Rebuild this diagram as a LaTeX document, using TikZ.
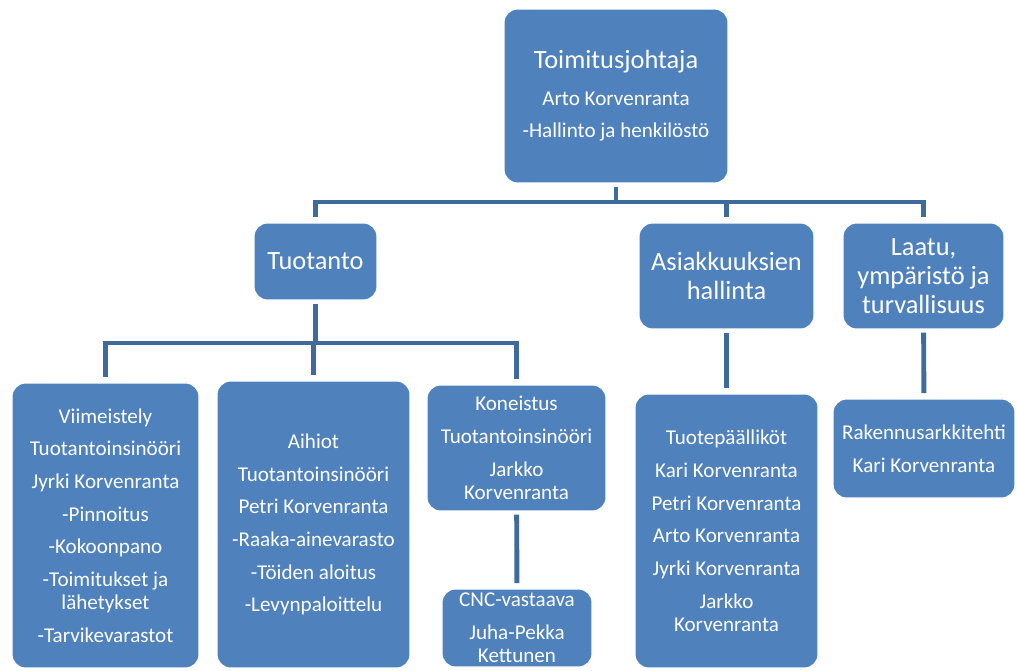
\documentclass[tikz,border=0pt]{standalone}
\usepackage{fontspec}
\setmainfont{Carlito}
\definecolor{boxBlue}{RGB}{79,129,189}
\definecolor{linkBlue}{RGB}{62,106,156}

\begin{document}
\begin{tikzpicture}[x=0.02cm, y=-0.02cm,
    orgbox/.style={rectangle, rounded corners=0.27cm, draw=white, line width=0.6pt, fill=boxBlue, text=white, align=center, inner sep=2pt, font=\fontsize{12}{18.6}\selectfont},
    bigtext/.style={font=\fontsize{15}{16.4}\selectfont},
    boxsize/.style 2 args={minimum width=#1cm, minimum height=#2cm},
    link/.style={draw=linkBlue, line width=2.8pt, shorten <=1.8pt, shorten >=3pt}
  ]
    \useasboundingbox (0,0) rectangle (1017,670);

    % Top level
    \node[orgbox, boxsize={4.48}{3.48}] (chief) at (616,96) {{\fontsize{15}{18}\selectfont Toimitusjohtaja}\\[2pt] Arto Korvenranta\\ -Hallinto ja henkilöstö};

    % Second level
    \node[orgbox, bigtext, boxsize={2.46}{1.54}] (prod) at (315.5,261.5) {Tuotanto};
    \node[orgbox, bigtext, boxsize={3.5}{2.12}] (cust) at (726.5,276) {Asiakkuuksien\\ hallinta};
    \node[orgbox, bigtext, boxsize={3.22}{2.12}] (qual) at (923.5,276) {Laatu,\\ ympäristö ja\\ turvallisuus};

    % Production units
    \node[orgbox, boxsize={3.74}{5.7}] (finish) at (105.5,525.5) {Viimeistely\\ Tuotantoinsinööri\\ Jyrki Korvenranta\\ -Pinnoitus\\ -Kokoonpano\\ -Toimitukset ja\\[-5.4pt] lähetykset\\ -Tarvikevarastot};
    \node[orgbox, boxsize={3.86}{5.74}] (blanks) at (313.5,524.5) {Aihiot\\ Tuotantoinsinööri\\ Petri Korvenranta\\ -Raaka-ainevarasto\\ -Töiden aloitus\\ -Levynpaloittelu};
    \node[orgbox, boxsize={3.58}{2.52}] (machining) at (516.5,448) {Koneistus\\ Tuotantoinsinööri\\ Jarkko\\[-5.4pt] Korvenranta};
    \node[orgbox, boxsize={3.0}{1.56}] (cnc) at (517,628) {CNC-vastaava\\ Juha-Pekka\\[-5.4pt] Kettunen};

    % Other units
    \node[orgbox, boxsize={3.66}{5.48}] (managers) at (726.5,531) {Tuotepäälliköt\\ Kari Korvenranta\\ Petri Korvenranta\\ Arto Korvenranta\\ Jyrki Korvenranta\\ Jarkko\\[-5.4pt] Korvenranta};
    \node[orgbox, boxsize={3.64}{1.98}] (architect) at (924,448.5) {Rakennusarkkitehti\\ Kari Korvenranta};

    % Bus lines
    \coordinate (bus1) at (0,202);
    \coordinate (bus2) at (0,343);

    % Connectors
    \foreach \unit in {prod, cust, qual}
      \draw[link] (chief.south) -- (chief.south |- bus1) -| (\unit.north);
    \foreach \unit in {finish, blanks, machining}
      \draw[link] (prod.south) -- (prod.south |- bus2) -| (\unit.north);
    \draw[link] (machining) -- (cnc);
    \draw[link] (cust) -- (managers);
    \draw[link] (qual) -- (architect);

\end{tikzpicture}
\end{document}
